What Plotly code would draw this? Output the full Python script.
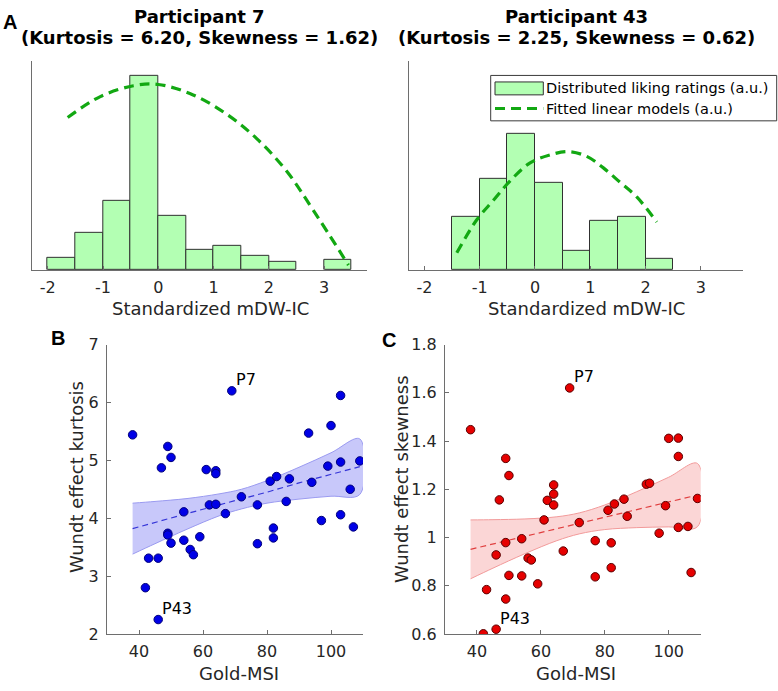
import plotly.graph_objects as go

# ---------------- data ----------------
bin_centers = [-1.75, -1.25, -0.75, -0.25, 0.25, 0.75, 1.25, 1.75, 2.25, 2.75, 3.25]
p7_density = [0.057, 0.178, 0.329, 0.929, 0.259, 0.098, 0.116, 0.068, 0.037, None, 0.050]
p43_density = [None, 0.254, 0.436, 0.653, 0.417, 0.090, 0.236, 0.253, 0.053, None, None]

p7_fit_x = [-1.64, -1.05, -0.45, 0.0, 0.63, 1.24, 1.78, 2.32, 2.80, 3.44]
p7_fit_y = [0.729, 0.829, 0.881, 0.887, 0.837, 0.744, 0.628, 0.473, 0.287, 0.023]
p43_fit_x = [-1.415, -1.053, -0.752, -0.450, -0.088, 0.274, 0.606, 0.937, 1.238, 1.540, 1.842, 2.204]
p43_fit_y = [0.082, 0.240, 0.333, 0.426, 0.512, 0.550, 0.566, 0.543, 0.488, 0.419, 0.349, 0.229]

hist_ticks = [-2, -1, 0, 1, 2, 3]
hist_ticktext = ["-2", "-1", "0", "1", "2", "3"]

gold_msi = [38, 42, 43, 46, 46, 47, 49, 49, 49, 50, 50, 54, 54, 56, 57, 59, 61, 62, 64, 64, 64,
            67, 69, 72, 77, 77, 81, 82, 82, 83, 86, 87, 93, 94, 97, 99, 100, 103, 103, 103, 106, 107, 109]
kurtosis = [5.44, 2.80, 3.31, 3.31, 2.25, 4.87, 5.24, 3.74, 3.71, 5.05, 3.57, 4.11, 3.62, 3.46, 3.37,
            3.68, 4.84, 4.23, 4.82, 4.77, 4.24, 4.08, 6.20, 4.37, 4.23, 3.56, 4.64, 3.83, 3.66, 4.72,
            4.29, 4.68, 5.47, 4.62, 3.96, 4.90, 5.60, 6.12, 4.97, 4.06, 4.50, 3.85, 4.99]
skewness = [1.447, 0.601, 0.784, 0.928, 0.62, 1.156, 1.328, 0.979, 0.745, 1.257, 0.843, 0.995, 0.841,
            0.915, 0.907, 0.808, 1.073, 1.154, 1.218, 1.180, 1.135, 0.944, 1.62, 1.062, 0.987, 0.837,
            1.113, 0.978, 0.875, 1.139, 1.159, 1.088, 1.221, 1.225, 1.018, 1.132, 1.411, 1.412, 1.336,
            1.042, 1.046, 0.855, 1.162]
idx_p7 = 22
idx_p43 = 4

band_x = [38, 45, 55, 65, 72, 80, 90, 100, 109]
kurt_fit = [3.82, 3.93, 4.08, 4.23, 4.33, 4.45, 4.61, 4.76, 4.89]
kurt_upper = [4.26, 4.29, 4.34, 4.42, 4.50, 4.65, 4.88, 5.13, 5.37]
kurt_lower = [3.38, 3.56, 3.81, 4.04, 4.16, 4.26, 4.33, 4.38, 4.41]
skew_fit = [0.951, 0.973, 1.005, 1.037, 1.059, 1.084, 1.116, 1.147, 1.176]
skew_upper = [1.073, 1.074, 1.077, 1.086, 1.102, 1.135, 1.190, 1.250, 1.307]
skew_lower = [0.829, 0.873, 0.933, 0.987, 1.015, 1.033, 1.041, 1.044, 1.045]

msi_ticks = [40, 60, 80, 100]
kurt_ticks = [2, 3, 4, 5, 6, 7]
skew_ticks = [0.6, 0.8, 1.0, 1.2, 1.4, 1.6, 1.8]
skew_ticktext = ["0.6", "0.8", "1", "1.2", "1.4", "1.6", "1.8"]

# ---------------- layout helpers ----------------
W, H = 778, 691
def px(x):
    return x / W
def py(y):
    return 1 - y / H

FONT = "DejaVu Sans"
TXT = "#262626"
AXC = "#6e6e6e"
BAR_FILL = "#b3ffb3"
GREEN = "#12a812"

fig = go.Figure()

# histograms
for i, (dens, fx, fy) in enumerate([(p7_density, p7_fit_x, p7_fit_y), (p43_density, p43_fit_x, p43_fit_y)]):
    xa = "x" if i == 0 else "x2"
    ya = "y" if i == 0 else "y2"
    fig.add_trace(go.Bar(x=bin_centers, y=dens, width=0.5, marker=dict(color=BAR_FILL, line=dict(color="#303030", width=1)),
                         xaxis=xa, yaxis=ya, showlegend=False, name="Distributed liking ratings (a.u.)"))
    fig.add_trace(go.Scatter(x=fx, y=fy, mode="lines", line=dict(color=GREEN, width=3.2, dash="10px,6px", shape="spline"),
                             xaxis=xa, yaxis=ya, showlegend=False, name="Fitted linear models (a.u.)"))

# scatter panels
panels = [
    ("x3", "y3", kurtosis, kurt_fit, kurt_upper, kurt_lower, "#0000e6", "#00007a", "rgba(200,200,250,1)", "#9a9af0", "#3535d8"),
    ("x4", "y4", skewness, skew_fit, skew_upper, skew_lower, "#e60000", "#5a0000", "rgba(251,214,214,1)", "#f29a9a", "#e04040"),
]
for xa, ya, vals, fit, up, lo, mfill, mline, bandfill, bandline, fitcol in panels:
    fig.add_trace(go.Scatter(x=band_x + band_x[::-1], y=up + lo[::-1], mode="lines", fill="toself",
                             fillcolor=bandfill, line=dict(color=bandline, width=1, shape="spline"),
                             xaxis=xa, yaxis=ya, showlegend=False, hoverinfo="skip"))
    fig.add_trace(go.Scatter(x=band_x, y=fit, mode="lines", line=dict(color=fitcol, width=1.2, dash="6px,4px"),
                             xaxis=xa, yaxis=ya, showlegend=False))
    fig.add_trace(go.Scatter(x=gold_msi, y=vals, mode="markers",
                             marker=dict(size=8.5, color=mfill, line=dict(color=mline, width=1)),
                             xaxis=xa, yaxis=ya, showlegend=False))

axis_common = dict(showgrid=False, zeroline=False, showline=True, linecolor=AXC, linewidth=1,
                   ticks="inside", ticklen=4, tickcolor=AXC, tickfont=dict(family=FONT, size=16, color=TXT))

hist_x_common = dict(axis_common, range=[-2.28, 3.77], tickvals=hist_ticks, ticktext=hist_ticktext, ticklabelstandoff=3)
hist_y_common = dict(showgrid=False, zeroline=False, showline=True, linecolor=AXC, linewidth=1,
                     showticklabels=False, ticks="", range=[0, 1])

fig.update_layout(
    width=W, height=H, margin=dict(l=0, r=0, t=0, b=0, pad=0),
    paper_bgcolor="white", plot_bgcolor="white", showlegend=False,
    bargap=0,
    xaxis=dict(hist_x_common, domain=[px(32.3), px(366.7)], anchor="y"),
    yaxis=dict(hist_y_common, domain=[py(268.3), py(53.3)], anchor="x"),
    xaxis2=dict(hist_x_common, domain=[px(409), px(743.3)], anchor="y2"),
    yaxis2=dict(hist_y_common, domain=[py(268.3), py(53.3)], anchor="x2"),
    xaxis3=dict(axis_common, domain=[px(107), px(363)], anchor="y3", range=[30, 110], tickvals=msi_ticks, ticklabelstandoff=3),
    yaxis3=dict(axis_common, domain=[py(642.7), py(345)], anchor="x3", range=[2, 7], tickvals=kurt_ticks, ticklabelstandoff=4),
    xaxis4=dict(axis_common, domain=[px(445), px(700.7)], anchor="y4", range=[30, 110], tickvals=msi_ticks, ticklabelstandoff=3),
    yaxis4=dict(axis_common, domain=[py(642.7), py(345)], anchor="x4", range=[0.6, 1.8], tickvals=skew_ticks,
                ticktext=skew_ticktext, ticklabelstandoff=4),
)

ann = []
def text(x, y, s, size, bold=False, color=TXT, xanchor="center", angle=0, family=FONT):
    ann.append(dict(x=x, y=y, xref="paper", yref="paper", text=("<b>%s</b>" % s) if bold else s,
                    showarrow=False, xanchor=xanchor, yanchor="middle", textangle=angle,
                    font=dict(family=family, size=size, color=color)))

# titles
text(px(199.5), py(8), "Participant 7", 18, bold=True, color="black")
text(px(199.5), py(29.5), "(Kurtosis = 6.20, Skewness = 1.62)", 18, bold=True, color="black")
text(px(576.5), py(8), "Participant 43", 18, bold=True, color="black")
text(px(576.5), py(29.5), "(Kurtosis = 2.25, Skewness = 0.62)", 18, bold=True, color="black")
# axis labels
text(px(210.3), py(308), "Standardized mDW-IC", 18)
text(px(586.7), py(308), "Standardized mDW-IC", 18)
text(px(238.5), py(683), "Gold-MSI", 18)
text(px(576), py(683), "Gold-MSI", 18)
text(px(76.5), py(481.7), "Wundt effect kurtosis", 18, angle=-90)
text(px(401), py(483.3), "Wundt effect skewness", 18, angle=-90)
# panel letters
text(px(0.5), py(13.5), "A", 20, bold=True, color="black", xanchor="left", family="Liberation Sans")
text(px(48.5), py(338), "B", 20, bold=True, color="black", xanchor="left", family="Liberation Sans")
text(px(380), py(340.5), "C", 20, bold=True, color="black", xanchor="left", family="Liberation Sans")

# point labels
for xr, yr, vals in [("x3", "y3", kurtosis), ("x4", "y4", skewness)]:
    for idx, lab in [(idx_p7, "P7"), (idx_p43, "P43")]:
        ann.append(dict(x=gold_msi[idx], y=vals[idx], xref=xr, yref=yr, text=lab, showarrow=False,
                        xanchor="left", yanchor="middle", xshift=2, yshift=11,
                        font=dict(family=FONT, size=16, color="black")))

# legend (drawn in top-right panel)
shapes = [
    dict(type="rect", xref="paper", yref="paper", x0=px(490.7), x1=px(776.7), y0=py(115), y1=py(68.3),
         line=dict(color="#3a3a3a", width=1), fillcolor="white", layer="above"),
    dict(type="rect", xref="paper", yref="paper", x0=px(495), x1=px(543.3), y0=py(88.3), y1=py(75),
         line=dict(color="#303030", width=1), fillcolor=BAR_FILL, layer="above"),
    dict(type="line", xref="paper", yref="paper", x0=px(495), x1=px(543.3), y0=py(102.3), y1=py(102.3),
         line=dict(color=GREEN, width=3.2, dash="10px,6px"), layer="above"),
]
ann.append(dict(x=px(543.5), y=py(81.7), xref="paper", yref="paper", text="Distributed liking ratings (a.u.)",
                showarrow=False, xanchor="left", yanchor="middle", font=dict(family=FONT, size=14.5, color="black")))
ann.append(dict(x=px(543.5), y=py(103.3), xref="paper", yref="paper", text="Fitted linear models (a.u.)",
                showarrow=False, xanchor="left", yanchor="middle", font=dict(family=FONT, size=14.5, color="black")))

fig.update_layout(annotations=ann, shapes=shapes)
fig.write_html("out.html", config={"displayModeBar": False},
               post_script="document.body.style.margin='0';document.body.style.overflow='hidden';")
